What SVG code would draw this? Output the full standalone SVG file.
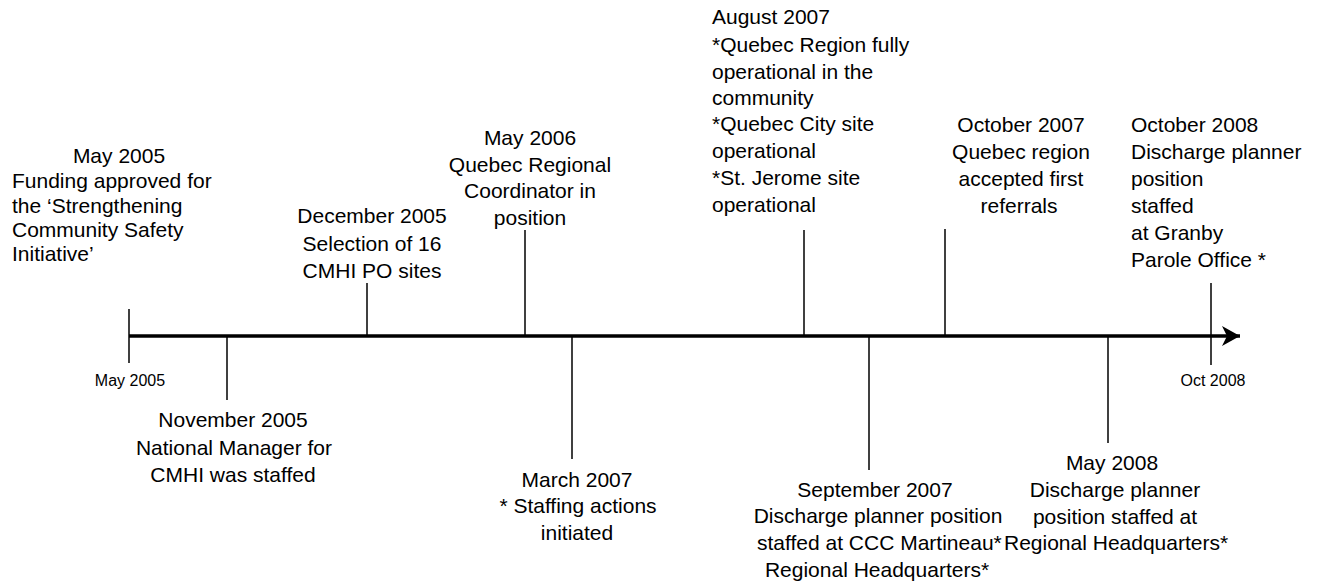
<svg xmlns="http://www.w3.org/2000/svg" width="1321" height="584" viewBox="0 0 1321 584">
<style>
text{font-family:"Liberation Sans",Arial,sans-serif;fill:#000;}
.t{font-size:21px;}
.s{font-size:16px;}
.c{text-anchor:middle;}
.tick{stroke:#000;stroke-width:1.5;fill:none;}
.axis{stroke:#000;stroke-width:3.5;fill:none;}
</style>
<defs>
<marker id="arr" markerUnits="userSpaceOnUse" markerWidth="20" markerHeight="22" refX="18" refY="10" orient="auto">
<path d="M0,0 L18,10 L0,20 L5,10 Z" fill="#000"/>
</marker>
</defs>
<rect width="1321" height="584" fill="#fff"/>
<g id="connectors">
<line class="axis" x1="129" y1="336" x2="1240" y2="336" marker-end="url(#arr)"/>
<line class="tick" x1="129" y1="309" x2="129" y2="363"/>
<line class="tick" x1="1211" y1="283" x2="1211" y2="365"/>
<line class="tick" x1="367" y1="283" x2="367" y2="336"/>
<line class="tick" x1="525" y1="230" x2="525" y2="336"/>
<line class="tick" x1="804" y1="230" x2="804" y2="336"/>
<line class="tick" x1="945" y1="229" x2="945" y2="336"/>
<line class="tick" x1="227" y1="336" x2="227" y2="400"/>
<line class="tick" x1="572" y1="336" x2="572" y2="459"/>
<line class="tick" x1="869" y1="336" x2="869" y2="470"/>
<line class="tick" x1="1108" y1="336" x2="1108" y2="443"/>
</g>
<g id="axis-labels">
<text class="s c" x="130" y="386">May 2005</text>
<text class="s c" x="1213" y="386">Oct 2008</text>
</g>
<g id="may2005">
<text class="t c" x="119" y="163">May 2005</text>
<text class="t" x="12" y="188">Funding approved for</text>
<text class="t" x="12" y="213">the ‘Strengthening</text>
<text class="t" x="12" y="237">Community Safety</text>
<text class="t" x="12" y="261">Initiative’</text>
</g>
<g id="nov2005">
<text class="t c" x="233" y="427">November 2005</text>
<text class="t c" x="234" y="455">National Manager for</text>
<text class="t c" x="233" y="482">CMHI was staffed</text>
</g>
<g id="dec2005">
<text class="t c" x="372" y="223">December 2005</text>
<text class="t c" x="372" y="251">Selection of 16</text>
<text class="t c" x="372" y="278">CMHI PO sites</text>
</g>
<g id="may2006">
<text class="t c" x="530" y="145">May 2006</text>
<text class="t c" x="530" y="172">Quebec Regional</text>
<text class="t c" x="530" y="198">Coordinator in</text>
<text class="t c" x="530" y="225">position</text>
</g>
<g id="mar2007">
<text class="t c" x="577" y="487">March 2007</text>
<text class="t c" x="578" y="513">* Staffing actions</text>
<text class="t c" x="577" y="540">initiated</text>
</g>
<g id="aug2007">
<text class="t" x="712" y="24">August 2007</text>
<text class="t" x="712" y="52">*Quebec Region fully</text>
<text class="t" x="712" y="79">operational in the</text>
<text class="t" x="712" y="105">community</text>
<text class="t" x="712" y="131">*Quebec City site</text>
<text class="t" x="712" y="158">operational</text>
<text class="t" x="712" y="185">*St. Jerome site</text>
<text class="t" x="712" y="212">operational</text>
</g>
<g id="sep2007">
<text class="t c" x="875" y="497">September 2007</text>
<text class="t c" x="878" y="523">Discharge planner position</text>
<text class="t" x="757" y="550">staffed at CCC Martineau*</text>
<text class="t c" x="877" y="577">Regional Headquarters*</text>
</g>
<g id="oct2007">
<text class="t c" x="1021" y="132">October 2007</text>
<text class="t c" x="1021" y="159">Quebec region</text>
<text class="t c" x="1021" y="186">accepted first</text>
<text class="t c" x="1019" y="213">referrals</text>
</g>
<g id="may2008">
<text class="t c" x="1112" y="470">May 2008</text>
<text class="t c" x="1115" y="497">Discharge planner</text>
<text class="t c" x="1115" y="524">position staffed at</text>
<text class="t" x="1004" y="550">Regional Headquarters*</text>
</g>
<g id="oct2008">
<text class="t" x="1131" y="132">October 2008</text>
<text class="t" x="1131" y="159">Discharge planner</text>
<text class="t" x="1131" y="186">position</text>
<text class="t" x="1131" y="213">staffed</text>
<text class="t" x="1131" y="240">at Granby</text>
<text class="t" x="1131" y="267">Parole Office *</text>
</g>
</svg>
